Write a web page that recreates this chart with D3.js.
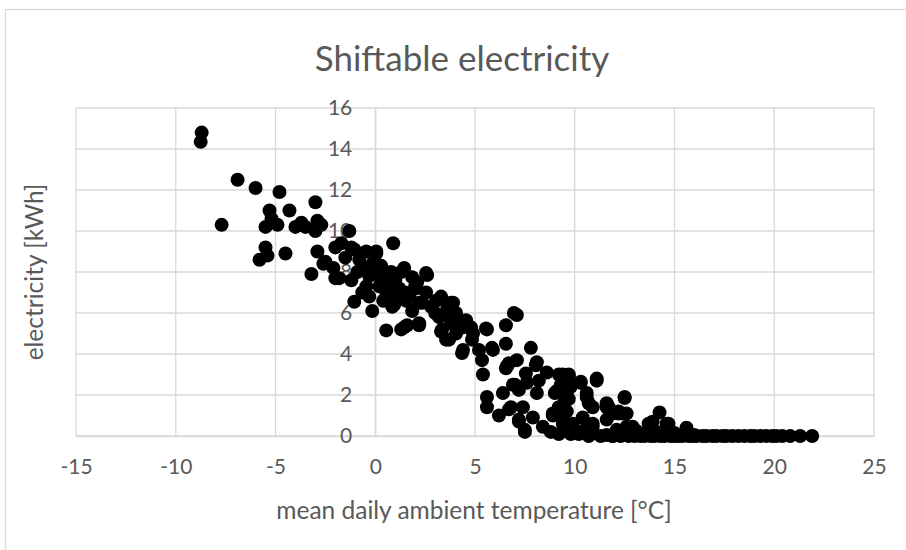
<!DOCTYPE html>
<html>
<head>
<meta charset="utf-8">
<script src="https://cdn.jsdelivr.net/npm/d3@7"></script>
<style>
  html, body { margin: 0; padding: 0; background: #fff; }
  svg { display: block; }
  text { font-family: Lato, "Open Sans", sans-serif; fill: #595959; }
</style>
</head>
<body>
<svg id="chart" width="906" height="550"></svg>
<script>
// Daily mean ambient temperature (°C) and shiftable electricity (kWh)
const temperature = [
  -8.7, -8.75, -7.7, -6.9, -6.0, -5.8, -5.5, -5.4, -5.5, -5.3, -5.2, -4.9, -4.8, -4.5, -4.3, -4.0,
  -3.7, -3.5, -3.2, -3.0, -3.0, -2.9, -2.7, -2.9, -2.6, -2.5, -2.1, -2.0, -2.0, -1.8, -1.7, -1.5,
  -1.3, -1.2, -1.2, -1.05, -1.05, -0.8, -0.65, -0.45, -0.45, -0.15, -0.15, 0.05, 0.05, 0.2, 0.55, 0.55,
  0.55, -0.9, -0.6, -0.3, 0.0, 0.3, 0.3, 0.7, 0.8, 1.0, 1.0, 1.2, 1.3, 1.45, 1.5, 1.55,
  1.7, 1.85, 1.85, 2.0, 2.05, 2.1, 2.2, 2.35, 2.55, 2.6, 2.55, 0.85, 0.95, 0.9, -0.3, 0.4,
  1.3, 1.45, 1.6, 2.2, 2.2, 3.05, 3.3, 3.3, 3.8, 3.9, 3.2, 3.35, 3.3, 3.55, 3.7, 4.05,
  4.05, 4.4, 4.55, 4.8, 4.9, 4.35, 4.4, 4.85, 5.2, 5.35, 5.55, 5.6, 5.85, 5.9, 6.55, 6.55,
  6.95, 7.1, 3.6, 3.0, 4.2, 3.8, 2.8, 3.5,
  5.4, 5.6, 5.6, 6.4, 6.2, 6.6, 6.55, 6.7, 6.7, 6.8, 6.9, 7.0, 7.1, 7.2, 7.2, 7.2,
  7.4, 7.5, 7.5, 7.55, 7.6, 7.8, 7.9, 8.05, 8.1, 8.1, 8.2, 8.4, 8.6, 8.9, 8.9,
  9.0, 9.1, 9.2, 9.4, 9.2, 9.4, 9.4, 9.5, 9.6, 9.7, 9.7, 9.9, 9.9, 10.3, 10.3, 10.4,
  10.6, 10.6, 10.7, 10.7, 10.7, 10.9, 10.9, 10.9, 11.1, 11.1, 11.6, 11.6, 11.6, 11.6, 11.7, 11.9,
  11.9, 12.2, 12.2, 12.4, 12.5, 12.5, 12.6, 12.6, 12.9, 12.9, 13.6, 13.7, 13.9, 14.25, 14.6, 14.7,
  15.6, 9.3, 9.5, 9.6, 9.8, 9.7, 9.5, 9.8, 8.8, 9.2, 10.2, 10.5,
  11.3, 11.9, 12.3, 12.7, 13.0, 13.3, 13.5, 13.8, 14.0, 14.3, 14.5, 14.8, 15.0, 15.2, 15.4, 15.7,
  15.9, 16.1, 16.4, 16.6, 16.9, 17.1, 17.4, 17.6, 17.9, 18.2, 18.5, 18.8, 19.0, 19.3, 19.6, 19.9,
  20.1, 20.4, 20.8, 21.3, 21.9,
  12.1, 13.1, 13.4, 14.1, 14.4, 15.0, 15.5, 16.0
];
const electricity = [
  14.8, 14.35, 10.3, 12.5, 12.1, 8.6, 9.2, 8.8, 10.2, 11.0, 10.6, 10.3, 11.9, 8.9, 11.0, 10.2,
  10.4, 10.2, 7.9, 11.4, 10.0, 10.5, 10.3, 9.0, 8.4, 8.5, 8.2, 9.2, 7.7, 7.7, 9.4, 8.7,
  10.0, 9.2, 7.6, 9.1, 6.55, 8.6, 7.0, 9.0, 7.3, 8.4, 6.1, 9.0, 8.9, 7.3, 7.95, 7.0,
  5.15, 8.0, 8.2, 7.8, 8.1, 7.6, 8.3, 7.4, 8.0, 7.6, 6.8, 7.2, 8.0, 8.2, 7.0, 6.6,
  6.8, 7.75, 6.1, 7.3, 7.2, 7.5, 6.5, 6.5, 7.95, 7.85, 7.0, 6.3, 6.4, 9.4, 6.8, 6.6,
  5.2, 5.3, 5.4, 5.4, 5.5, 6.6, 6.8, 6.7, 6.5, 6.5, 5.8, 5.2, 5.1, 4.7, 4.7, 6.0,
  5.0, 5.3, 5.65, 5.3, 5.0, 4.05, 4.2, 4.7, 4.2, 3.7, 5.25, 5.2, 4.3, 4.2, 4.5, 5.4,
  6.0, 5.9, 6.2, 6.0, 5.6, 5.5, 6.3, 5.9,
  3.0, 1.9, 1.4, 2.1, 1.0, 3.4, 3.3, 3.55, 1.3, 1.4, 2.5, 2.5, 3.7, 2.25, 0.8, 0.7,
  1.4, 0.3, 0.2, 3.05, 2.6, 4.3, 0.9, 3.45, 3.6, 2.1, 2.7, 0.45, 3.1, 1.0, 1.1,
  2.1, 2.2, 3.0, 3.0, 1.4, 0.8, 0.6, 2.1, 2.1, 2.9, 3.0, 0.6, 0.45, 2.6, 2.65, 0.9,
  1.9, 2.1, 1.6, 0.15, 0.0, 1.4, 0.6, 0.45, 2.7, 2.8, 1.4, 1.6, 0.8, 0.05, 1.4, 1.1,
  0.0, 1.2, 1.1, 1.1, 1.85, 1.9, 0.45, 1.1, 0.2, 0.45, 0.15, 0.6, 0.7, 1.15, 0.6, 0.6,
  0.4, 2.5, 1.7, 1.2, 2.4, 1.8, 0.3, 0.1, 0.2, 0.1, 0.1, 0.3,
  0.0, 0.0, 0.0, 0.0, 0.0, 0.0, 0.0, 0.0, 0.0, 0.0, 0.0, 0.0, 0.0, 0.0, 0.0, 0.0,
  0.0, 0.0, 0.0, 0.0, 0.0, 0.0, 0.0, 0.0, 0.0, 0.0, 0.0, 0.0, 0.0, 0.0, 0.0, 0.0,
  0.0, 0.0, 0.0, 0.0, 0.0,
  0.3, 0.25, 0.1, 0.2, 0.1, 0.15, 0.1, 0.05
];

const xTicks = [-15, -10, -5, 0, 5, 10, 15, 20, 25];
const yTicks = [0, 2, 4, 6, 8, 10, 12, 14, 16];

const chartTitle = "Shiftable electricity";
const xTitle = "mean daily ambient temperature [°C]";
const yTitle = "electricity [kWh]";

const svg = d3.select("#chart");
const W = 906, H = 550;
const plot = { left: 76, right: 874, top: 108, bottom: 436 };

const x = d3.scaleLinear().domain([-15, 25]).range([plot.left, plot.right]);
const y = d3.scaleLinear().domain([0, 16]).range([plot.bottom, plot.top]);

// chart area frame
svg.append("rect")
  .attr("x", 5.5).attr("y", 9.5)
  .attr("width", W + 20).attr("height", H + 20)
  .attr("fill", "#fff").attr("stroke", "#d9d9d9").attr("stroke-width", 1.3);

// gridlines
const grid = svg.append("g").attr("stroke", "#d9d9d9").attr("stroke-width", 1.3);
grid.selectAll("line.h").data(yTicks).join("line")
  .attr("x1", plot.left).attr("x2", plot.right)
  .attr("y1", d => y(d)).attr("y2", d => y(d));
grid.selectAll("line.v").data(xTicks).join("line")
  .attr("y1", plot.top).attr("y2", plot.bottom)
  .attr("x1", d => x(d)).attr("x2", d => x(d));

// x axis along y = 0
const xAxis = svg.append("g")
  .attr("transform", `translate(0,${y(0)})`)
  .call(d3.axisBottom(x).tickValues(xTicks).tickSize(0).tickPadding(23)
    .tickFormat(d => d < 0 ? "-" + Math.abs(d) : String(d)));
xAxis.select(".domain").attr("stroke", "#d9d9d9").attr("stroke-width", 1.3);
xAxis.selectAll("text").attr("font-size", 21).attr("fill", "#595959")
  .style("font-family", "Lato, sans-serif");

// y axis crossing at x = 0
const yAxis = svg.append("g")
  .attr("transform", `translate(${x(0)},0)`)
  .call(d3.axisLeft(y).tickValues(yTicks).tickSize(0).tickPadding(23));
yAxis.select(".domain").attr("stroke", "#d9d9d9").attr("stroke-width", 1.3);
yAxis.selectAll("text").attr("font-size", 21).attr("fill", "#595959")
  .style("font-family", "Lato, sans-serif");

// points
const pts = temperature.map((t, i) => ({ t, e: electricity[i] }));
svg.append("g").selectAll("circle").data(pts).join("circle")
  .attr("cx", d => x(d.t))
  .attr("cy", d => y(d.e))
  .attr("r", 7)
  .attr("fill", "#000");

// titles
svg.append("text")
  .attr("x", 462).attr("y", 71)
  .attr("text-anchor", "middle")
  .attr("font-size", 35)
  .text(chartTitle);

svg.append("text")
  .attr("x", 474).attr("y", 519)
  .attr("text-anchor", "middle")
  .attr("font-size", 24.5)
  .text(xTitle);

svg.append("text")
  .attr("transform", "translate(43,272) rotate(-90)")
  .attr("text-anchor", "middle")
  .attr("font-size", 24.5)
  .text(yTitle);
</script>
</body>
</html>
